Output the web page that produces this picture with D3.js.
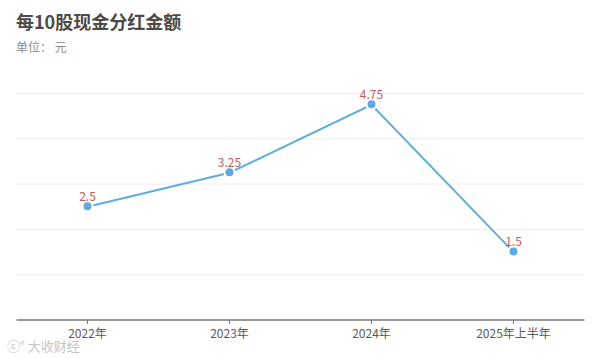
<!DOCTYPE html>
<html>
<head>
<meta charset="utf-8">
<script src="https://cdn.jsdelivr.net/npm/d3@7/dist/d3.min.js"></script>
<style>
body { margin: 0; background: #fff; }
text { font-family: "Noto Sans CJK SC", sans-serif; }
</style>
</head>
<body>
<div id="chart"></div>
<script>
var categories = ["2022年", "2023年", "2024年", "2025年上半年"];
var values = [2.5, 3.25, 4.75, 1.5];
var valueLabels = ["2.5", "3.25", "4.75", "1.5"];
var gridTicks = [1, 2, 3, 4, 5];

var width = 615;
var height = 358;

var canvas = d3.select("#chart")
    .append("svg")
    .attr("width", width)
    .attr("height", height)
    .style("display", "block");

canvas.append("rect")
    .attr("width", width)
    .attr("height", height)
    .attr("fill", "white");

var xScale = d3.scaleBand().domain(categories).range([16.5, 584.5]);
var yScale = d3.scaleLinear().domain([0, 5]).range([320, 93.5]);
var xShift = xScale.bandwidth() / 2;

canvas.append("text")
    .attr("x", 16)
    .attr("y", 28.5)
    .attr("font-size", 18)
    .attr("font-weight", 700)
    .attr("fill", "#4a4a4a")
    .text("每10股现金分红金额");

canvas.append("text")
    .attr("x", 16)
    .attr("y", 52)
    .attr("font-size", 12)
    .attr("fill", "#8c8c8c")
    .attr("xml:space", "preserve")
    .text("单位\uFF1A 元");

canvas.selectAll(".grid")
    .data(gridTicks)
    .enter().append("line")
    .attr("class", "grid")
    .attr("x1", 16)
    .attr("x2", 584)
    .attr("y1", function(d) { return yScale(d); })
    .attr("y2", function(d) { return yScale(d); })
    .style("stroke", "#eeeeee")
    .style("stroke-width", "1px");

var xAxis = canvas.append("g")
    .attr("class", "xAxis")
    .attr("transform", "translate(0, 320)")
    .call(d3.axisBottom(xScale).offset(0).tickSize(4).tickPadding(5.5).tickSizeOuter(0));

xAxis.select("path").style("stroke", "#777777").style("stroke-width", "1.3px");
xAxis.selectAll("line").style("stroke", "#777777");
xAxis.selectAll("text")
    .attr("font-size", 12)
    .attr("fill", "#5a5a5a")
    .style("font-family", '"Noto Sans CJK SC", sans-serif');

var line = d3.line()
    .x(function(d, i) { return xScale(categories[i]) + xShift; })
    .y(function(d) { return yScale(d); });

canvas.append("path")
    .datum(values)
    .attr("d", line)
    .attr("fill", "none")
    .style("stroke", "#62aedb")
    .style("stroke-width", "2px");

canvas.selectAll(".point")
    .data(values)
    .enter().append("circle")
    .attr("class", "point")
    .attr("cx", function(d, i) { return xScale(categories[i]) + xShift; })
    .attr("cy", function(d) { return yScale(d) - 0.5; })
    .attr("r", 5)
    .attr("fill", "#5fa9e0")
    .style("stroke", "white")
    .style("stroke-width", "2px");

canvas.selectAll(".valueLabel")
    .data(values)
    .enter().append("text")
    .attr("class", "valueLabel")
    .attr("x", function(d, i) { return xScale(categories[i]) + xShift; })
    .attr("y", function(d) { return yScale(d) - 6; })
    .attr("text-anchor", "middle")
    .attr("font-size", 12)
    .attr("fill", "#c25a5c")
    .text(function(d, i) { return valueLabels[i]; });

// faint watermark, bottom left
canvas.append("text")
    .attr("x", 7)
    .attr("y", 351)
    .attr("font-size", 13)
    .attr("fill", "#c4c4c4")
    .text("ⓒ° 大收财经");
</script>
</body>
</html>
